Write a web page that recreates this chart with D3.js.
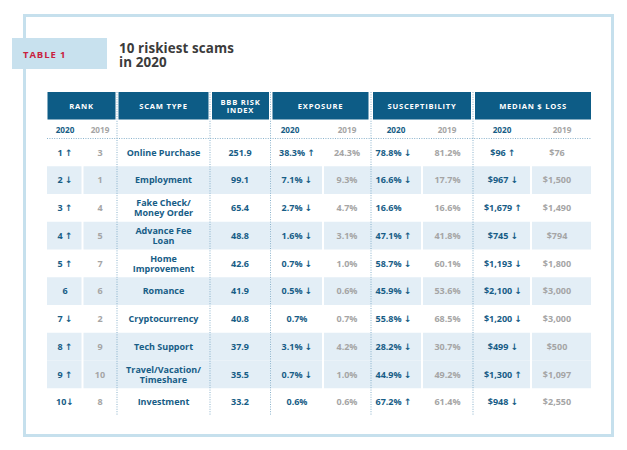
<!DOCTYPE html>
<html>
<head>
<meta charset="utf-8">
<script src="https://cdn.jsdelivr.net/npm/d3@7"></script>
<style>
  html, body { margin: 0; padding: 0; background: #fff; }
  svg { display: block; }
  text { font-family: "Open Sans", "DejaVu Sans", sans-serif; font-weight: 700; }
</style>
</head>
<body>
<svg id="chart" width="627" height="450"></svg>
<script>
// ---------------- DATA ----------------
const rank2020 = [1, 2, 3, 4, 5, 6, 7, 8, 9, 10];
const rankTrend = ["↑", "↓", "↑", "↑", "↑", "", "↓", "↑", "↑", "↓"];
const rank2019 = [3, 1, 4, 5, 7, 6, 2, 9, 10, 8];
const scamTypes = [
  ["Online Purchase"], ["Employment"], ["Fake Check/", "Money Order"],
  ["Advance Fee", "Loan"], ["Home", "Improvement"], ["Romance"],
  ["Cryptocurrency"], ["Tech Support"], ["Travel/Vacation/", "Timeshare"], ["Investment"]
];
const riskIndex = [251.9, 99.1, 65.4, 48.8, 42.6, 41.9, 40.8, 37.9, 35.5, 33.2];
const exposure2020 = [38.3, 7.1, 2.7, 1.6, 0.7, 0.5, 0.7, 3.1, 0.7, 0.6];
const exposureTrend = ["↑", "↓", "↓", "↓", "↓", "↓", "", "↓", "↓", ""];
const exposure2019 = [24.3, 9.3, 4.7, 3.1, 1.0, 0.6, 0.7, 4.2, 1.0, 0.6];
const susc2020 = [78.8, 16.6, 16.6, 47.1, 58.7, 45.9, 55.8, 28.2, 44.9, 67.2];
const suscTrend = ["↓", "↓", "", "↑", "↓", "↓", "↓", "↓", "↓", "↑"];
const susc2019 = [81.2, 17.7, 16.6, 41.8, 60.1, 53.6, 68.5, 30.7, 49.2, 61.4];
const loss2020 = [96, 967, 1679, 745, 1193, 2100, 1200, 499, 1300, 948];
const lossTrend = ["↑", "↓", "↑", "↓", "↓", "↓", "↓", "↓", "↑", "↓"];
const loss2019 = [76, 1500, 1490, 794, 1800, 3000, 3000, 500, 1097, 2550];
const shadedRows = [false, true, false, true, false, true, false, true, true, false];
const headers = [["RANK"], ["SCAM TYPE"], ["BBB RISK", "INDEX"], ["EXPOSURE"], ["SUSCEPTIBILITY"], ["MEDIAN $ LOSS"]];
const yearLabels = ["2020", "2019"];
const tableLabel = "TABLE 1";
const titleLines = ["10 riskiest scams", "in 2020"];

// ---------------- STYLE ----------------
const C = {
  frame: "#c6e0ed", labelBox: "#c8e1ee", red: "#c8223f", title: "#3b3b3b",
  head: "#0d5c86", shade: "#e3eef6", blue: "#175d86", gray: "#a5a5a5", dot: "#6d9fbf"
};

const svg = d3.select("#chart");
const n = rank2020.length;

// multi-line text helper: one <text> with tspans
function multiline(parent, lines, x, yFirst, lh) {
  const t = parent.append("text").attr("x", x).attr("y", yFirst);
  lines.forEach((l, j) => {
    t.append("tspan").attr("x", x).attr("y", yFirst + j * lh).text(l);
  });
  return t;
}

// frame
svg.append("rect").attr("x", 24.5).attr("y", 15.5).attr("width", 588).attr("height", 420)
  .attr("fill", "#fff").attr("stroke", C.frame).attr("stroke-width", 3);

// label box
svg.append("rect").attr("x", 12).attr("y", 38).attr("width", 95).attr("height", 31).attr("fill", C.labelBox);
svg.append("text").attr("x", 23).attr("y", 57.5).attr("fill", C.red)
  .attr("font-size", 9.5).attr("font-weight", 800).attr("letter-spacing", 0.9).text(tableLabel);

// title
multiline(svg, titleLines, 119, 53, 13.5)
  .attr("fill", C.title).attr("font-size", 13.4).attr("font-weight", 700).attr("letter-spacing", 0.1);

// ---------------- SCALES ----------------
const y = d3.scaleBand().domain(d3.range(n)).range([138.5, 416]).paddingInner(0);
const fmtPct = d3.format(".1f");
const fmtMoney = d3.format(",");

// header boxes
const headBoxes = [[47.5, 115.5], [118.5, 208.5], [212, 269], [272.5, 368.5], [373, 471], [475, 591]];
const hg = svg.append("g");
hg.selectAll("rect").data(headBoxes).join("rect")
  .attr("x", d => d[0]).attr("y", 92).attr("width", d => d[1] - d[0]).attr("height", 27.5)
  .attr("fill", C.head);
headers.forEach((lines, i) => {
  const cx = (headBoxes[i][0] + headBoxes[i][1]) / 2;
  const y0 = lines.length === 1 ? 108.5 : 104.8;
  multiline(hg, lines, cx, y0, 7.8).attr("text-anchor", "middle")
    .attr("fill", "#fff").attr("font-size", 7.6).attr("font-weight", 800)
    .attr("letter-spacing", 0.75);
});

// row shading segments
const segs = [[47, 81.5], [83.5, 117], [117, 270.5], [270.5, 322], [324, 371], [371, 421], [423, 473], [473, 530], [532, 591]];
const rowsG = svg.append("g");
d3.range(n).filter(i => shadedRows[i]).forEach(i => {
  rowsG.selectAll(null).data(segs).join("rect")
    .attr("x", d => d[0]).attr("y", y(i)).attr("width", d => d[1] - d[0]).attr("height", y.bandwidth())
    .attr("fill", C.shade);
});

// dotted lines
const vlines = [117, 210, 270.5, 371, 473];
svg.append("g").selectAll("line").data(vlines).join("line")
  .attr("x1", d => d).attr("x2", d => d).attr("y1", 92).attr("y2", 416)
  .attr("stroke", C.dot).attr("stroke-width", 0.8).attr("stroke-dasharray", "1,1.4");
svg.append("line").attr("x1", 47).attr("x2", 591).attr("y1", 138.5).attr("y2", 138.5)
  .attr("stroke", C.dot).attr("stroke-width", 0.8).attr("stroke-dasharray", "1,1.4");

// subheader years
const yearCols = [[65, 100], null, null, [290, 347], [396, 447], [502, 562]];
yearCols.forEach(pair => {
  if (!pair) return;
  pair.forEach((x, j) => {
    svg.append("text").attr("x", x).attr("y", 132.5).attr("text-anchor", "middle")
      .attr("fill", j === 0 ? C.blue : C.gray).attr("font-size", 8.2).attr("font-weight", 800).text(yearLabels[j]);
  });
});

// ---------------- BODY ----------------
const body = svg.append("g").attr("font-size", 9).attr("font-weight", 800);
function cell(i, x, txt, color, anchor) {
  body.append("text").attr("x", x).attr("y", y(i) + y.bandwidth() / 2 + 3.2)
    .attr("text-anchor", anchor || "middle").attr("fill", color).text(txt);
}
const withArrow = (s, a, sep) => a ? s + (sep === undefined ? " " : sep) + a : s;

d3.range(n).forEach(i => {
  cell(i, 65, withArrow(String(rank2020[i]), rankTrend[i], rank2020[i] >= 10 ? "" : " "), C.blue);
  cell(i, 100, String(rank2019[i]), C.gray);
  const lines = scamTypes[i];
  const yFirst = y(i) + y.bandwidth() / 2 + (lines.length === 1 ? 3.2 : -1.6);
  multiline(body, lines, 163.5, yFirst, 9.8).attr("text-anchor", "middle").attr("fill", C.blue);
  cell(i, 240, fmtPct(riskIndex[i]), C.blue);
  cell(i, 297, withArrow(fmtPct(exposure2020[i]) + "%", exposureTrend[i]), C.blue);
  cell(i, 347, fmtPct(exposure2019[i]) + "%", C.gray);
  cell(i, 375.5, withArrow(fmtPct(susc2020[i]) + "%", suscTrend[i]), C.blue, "start");
  cell(i, 447.5, fmtPct(susc2019[i]) + "%", C.gray);
  cell(i, 503, withArrow("$" + fmtMoney(loss2020[i]), lossTrend[i]), C.blue);
  cell(i, 557, "$" + fmtMoney(loss2019[i]), C.gray);
});
</script>
</body>
</html>
